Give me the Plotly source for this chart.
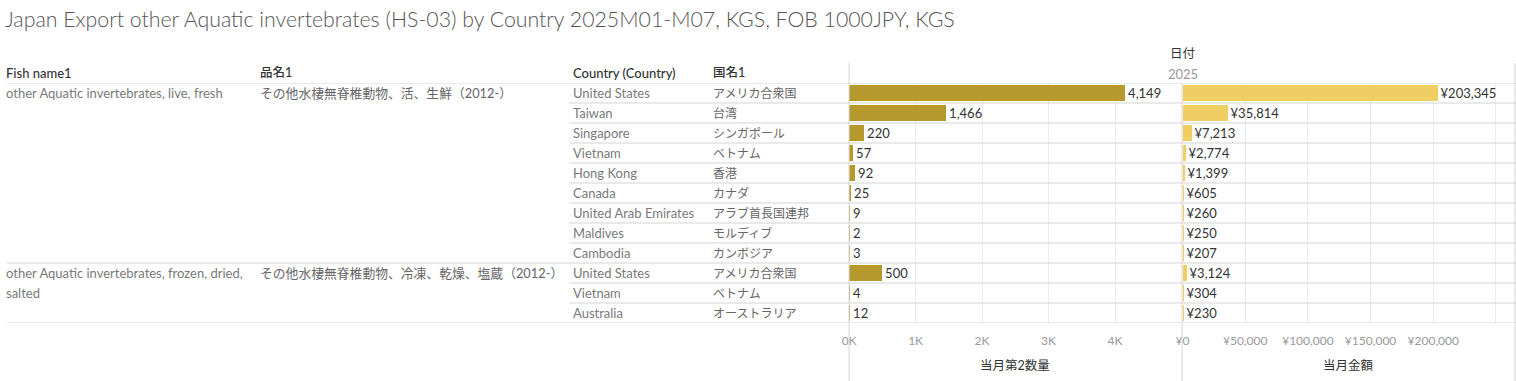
import plotly.graph_objects as go

# ---------------- data ----------------
fish_names = ["other Aquatic invertebrates, live, fresh",
              "other Aquatic invertebrates, frozen, dried,", "salted"]
fish_rows = [0, 9, 10]
hinmei = ["その他水棲無脊椎動物、活、生鮮（2012-）",
          "その他水棲無脊椎動物、冷凍、乾燥、塩蔵（2012-）"]
hinmei_rows = [0, 9]
countries_en = ["United States", "Taiwan", "Singapore", "Vietnam", "Hong Kong", "Canada",
                "United Arab Emirates", "Maldives", "Cambodia",
                "United States", "Vietnam", "Australia"]
countries_jp = ["アメリカ合衆国", "台湾", "シンガポール", "ベトナム", "香港", "カナダ",
                "アラブ首長国連邦", "モルディブ", "カンボジア",
                "アメリカ合衆国", "ベトナム", "オーストラリア"]
quantity = [4149, 1466, 220, 57, 92, 25, 9, 2, 3, 500, 4, 12]
amount = [203345, 35814, 7213, 2774, 1399, 605, 260, 250, 207, 3124, 304, 230]
qty_ticks = [0, 1000, 2000, 3000, 4000]
qty_ticktext = ["0K", "1K", "2K", "3K", "4K"]
amt_ticks = [0, 50000, 100000, 150000, 200000, 250000]
amt_ticktext = ["¥0", "¥50,000", "¥100,000", "¥150,000", "¥200,000", ""]
group_breaks = [8.5]

title = "Japan Export other Aquatic invertebrates (HS-03) by Country 2025M01-M07, KGS, FOB 1000JPY, KGS"
col_headers = ["Fish name1", "品名1", "Country (Country)", "国名1"]

# ---------------- layout helpers ----------------
W, H = 1516, 381
def px(x):
    return x / W
def py(y):
    return 1 - y / H

FONT = "Lato, 'Noto Sans CJK JP', sans-serif"
rows = list(range(len(countries_en)))

fig = go.Figure()
fig.add_trace(go.Bar(
    x=quantity, y=rows, orientation="h", xaxis="x", yaxis="y",
    marker=dict(color="#B6992D", line=dict(width=0)), width=0.8,
    texttemplate="%{x:,}", textposition="outside", cliponaxis=False,
    textfont=dict(family=FONT, size=13, color="#333333"), hoverinfo="skip"))
fig.add_trace(go.Bar(
    x=amount, y=rows, orientation="h", xaxis="x2", yaxis="y",
    marker=dict(color="#F1CE63", line=dict(width=0)), width=0.8,
    texttemplate="¥%{x:,}", textposition="outside", cliponaxis=False,
    textfont=dict(family=FONT, size=13, color="#333333"), hoverinfo="skip"))

top_px, bot_px = 83, 323
axis_common = dict(showgrid=True, gridcolor="#ececec", gridwidth=1, zeroline=False,
                   showline=False, ticks="", ticklabelstandoff=9,
                   tickfont=dict(family=FONT, size=12, color="#999999"), fixedrange=True)

fig.update_layout(
    width=W, height=H, autosize=False,
    margin=dict(l=0, r=0, t=0, b=0),
    paper_bgcolor="white", plot_bgcolor="white",
    showlegend=False, bargap=0,
    font=dict(family=FONT, size=13, color="#333333"),
    title=dict(text=title, x=px(5), xanchor="left", y=py(20), yanchor="middle",
               font=dict(family=FONT, size=21.3, color="#555555", weight=300)),
    xaxis=dict(domain=[px(846), px(1180)], range=[0, 5000], anchor="y",
               tickvals=qty_ticks, ticktext=qty_ticktext, **axis_common),
    xaxis2=dict(domain=[px(1181), 1.0], range=[0, 266000], anchor="y",
                tickvals=amt_ticks, ticktext=amt_ticktext, **axis_common),
    yaxis=dict(domain=[py(bot_px), py(top_px)], range=[len(rows) - 0.5, -0.5],
               showticklabels=False, showgrid=False, zeroline=False, fixedrange=True),
)

shapes = []
line_c = "#d4d4d4"
for yv in [-0.5, len(rows) - 0.5] + group_breaks:
    shapes.append(dict(type="line", xref="paper", yref="y", x0=0, x1=1, y0=yv, y1=yv,
                       line=dict(color=line_c, width=1)))
for r in rows[:-1]:
    yv = r + 0.5
    if yv in group_breaks:
        continue
    shapes.append(dict(type="line", xref="paper", yref="y", x0=px(565), x1=1, y0=yv, y1=yv,
                       line=dict(color=line_c, width=1)))
shapes.append(dict(type="line", xref="paper", yref="paper", x0=px(846), x1=px(846),
                   y0=py(63), y1=0, line=dict(color=line_c, width=1)))
shapes.append(dict(type="line", xref="paper", yref="paper", x0=px(1180.5), x1=px(1180.5),
                   y0=py(83), y1=0, line=dict(color=line_c, width=1)))
shapes.append(dict(type="line", xref="paper", yref="paper", x0=px(1515), x1=px(1515),
                   y0=py(63), y1=0, line=dict(color=line_c, width=1)))
fig.update_layout(shapes=shapes)

ann = []
def text(x, y, s, color="#7a7a7a", size=13, xanchor="left", yref="y", weight=None, xshift=0):
    f = dict(family=FONT, size=size, color=color)
    if weight:
        f["weight"] = weight
    ann.append(dict(x=x, y=y, xref="paper", yref=yref, text=s, showarrow=False,
                    xanchor=xanchor, yanchor="middle", font=f, xshift=xshift))

col_x = [0, 252, 567, 707]
col_shift = [-3, 0, 0, 0]
for xx, sh, s in zip(col_x, col_shift, col_headers):
    text(px(xx), py(73), s, color="#333333", yref="paper", weight=500,
         size=13 if xx in (0, 567) else 12.5, xshift=sh)
text(px(1181), py(53), "日付", color="#333333", yref="paper", xanchor="center", size=12.5)
text(px(1181), py(74), "2025", color="#999999", yref="paper", xanchor="center")

for r, s in zip(fish_rows, fish_names):
    text(px(col_x[0]), r, s, xshift=col_shift[0])
for r, s in zip(hinmei_rows, hinmei):
    text(px(col_x[1]), r, s, color="#666666", size=12.8)
for r in rows:
    text(px(col_x[2]), r, countries_en[r])
    text(px(col_x[3]), r, countries_jp[r], color="#666666", size=12)

text(px(1013), py(365), "当月第2数量", color="#333333", yref="paper", xanchor="center", size=12.5)
text(px(1348), py(365), "当月金額", color="#333333", yref="paper", xanchor="center", size=12.5)

fig.update_layout(annotations=ann)
fig.write_html("out.html", config={"displayModeBar": False},
               post_script="document.body.style.margin='0';document.body.style.overflow='hidden';")
